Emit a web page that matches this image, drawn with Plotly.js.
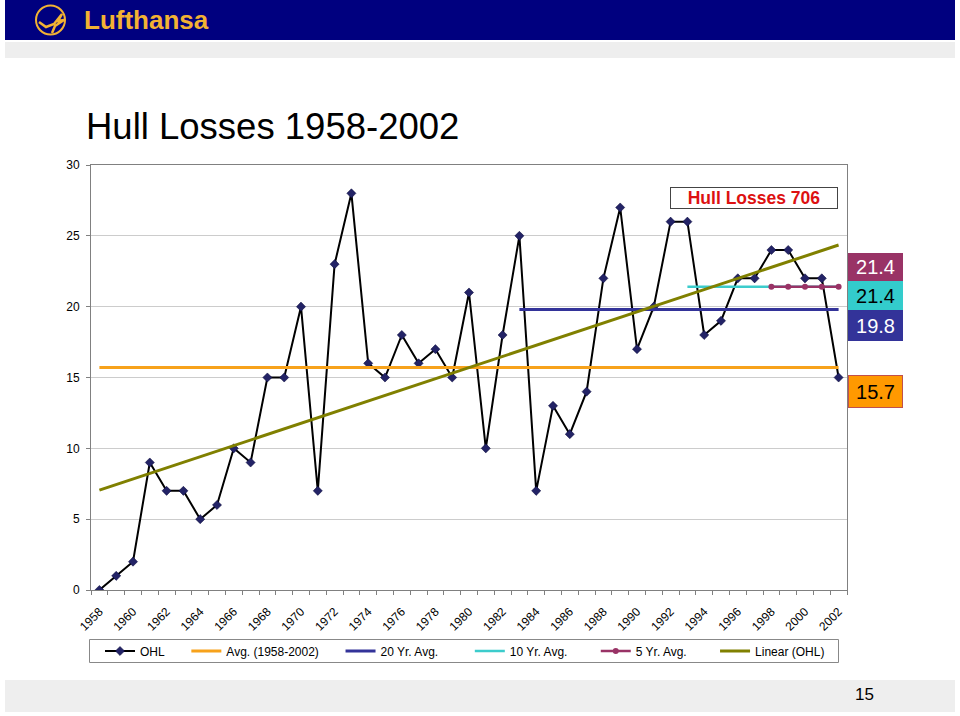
<!DOCTYPE html>
<html>
<head>
<meta charset="utf-8">
<script src="https://cdn.plot.ly/plotly-3.0.1.min.js"></script>
<style>
html,body{margin:0;padding:0;background:#fff;}
#chart{width:960px;height:716px;}
</style>
</head>
<body>
<div id="chart"></div>
<script>
// ---- data ----
const years = [1958,1959,1960,1961,1962,1963,1964,1965,1966,1967,1968,1969,1970,1971,1972,1973,1974,1975,1976,1977,1978,1979,1980,1981,1982,1983,1984,1985,1986,1987,1988,1989,1990,1991,1992,1993,1994,1995,1996,1997,1998,1999,2000,2001,2002];
const ohl = [0,1,2,9,7,7,5,6,10,9,15,15,20,7,23,28,16,15,18,16,17,15,21,10,18,25,7,13,11,14,22,27,17,20,26,26,18,19,22,22,24,24,22,22,15];
const avgAllYears = [1958, 2002];
const avgAllValues = [15.7, 15.7];
const avg20Years = [1983, 2002];
const avg20Values = [19.8, 19.8];
const avg10Years = [1993, 2002];
const avg10Values = [21.4, 21.4];
const avg5Years = [1998, 1999, 2000, 2001, 2002];
const avg5Values = [21.4, 21.4, 21.4, 21.4, 21.4];
const linearYears = [1958, 2002];
const linearValues = [7.05, 24.35];
const tickYears = [1958,1960,1962,1964,1966,1968,1970,1972,1974,1976,1978,1980,1982,1984,1986,1988,1990,1992,1994,1996,1998,2000,2002];
const seriesNames = ['OHL', 'Avg. (1958-2002)', '20 Yr. Avg.', '10 Yr. Avg.', '5 Yr. Avg.', 'Linear (OHL)'];
const boxLabels = ['21.4', '21.4', '19.8', '15.7'];
const totalLabel = 'Hull Losses 706';

// ---- geometry helpers (pixel -> paper) ----
const L = 91, R = 847, T = 165, B = 590;
const W = 960, H = 716;
const xp = px => (px - L) / (R - L);
const yp = py => (B - py) / (B - T);
const FONT = 'Liberation Sans, Arial, sans-serif';
const NB = '\u00A0';
const pad = n => NB.repeat(n);
const legendPads = [5, 5, 8, 7, 7, 0];
const legName = i => seriesNames[i] + pad(legendPads[i]);

const traces = [
  {x: years, y: ohl, name: legName(0), type: 'scatter', mode: 'lines+markers',
   line: {color: '#000000', width: 2},
   marker: {symbol: 'diamond', size: 7, color: '#232366', line: {color: '#000033', width: 0.5}}},
  {x: avgAllYears, y: avgAllValues, name: legName(1), type: 'scatter', mode: 'lines',
   line: {color: '#F7A21B', width: 3}},
  {x: avg20Years, y: avg20Values, name: legName(2), type: 'scatter', mode: 'lines',
   line: {color: '#333399', width: 3}},
  {x: avg10Years, y: avg10Values, name: legName(3), type: 'scatter', mode: 'lines',
   line: {color: '#3CCCCC', width: 2.5}},
  {x: avg5Years, y: avg5Values, name: legName(4), type: 'scatter', mode: 'lines+markers',
   line: {color: '#993366', width: 2.5},
   marker: {symbol: 'circle', size: 6, color: '#993366'}},
  {x: linearYears, y: linearValues, name: legName(5), type: 'scatter', mode: 'lines',
   line: {color: '#808000', width: 3}}
];

function pathFromPx(pts) {
  return pts.map((p, i) => (i === 0 ? 'M' : 'L') + xp(p[0]).toFixed(5) + ',' + yp(p[1]).toFixed(5)).join(' ');
}
const crane = pathFromPx([[39,22],[46,27],[54,24],[62,14],[58,21],[64,20],[55,26],[52,33]]);

const boxColors = [
  {bg: '#993366', fg: '#FFFFFF', cy: 267, h: 28},
  {bg: '#33CCCC', fg: '#000000', cy: 295.5, h: 29},
  {bg: '#333399', fg: '#FFFFFF', cy: 325.5, h: 31},
  {bg: '#FF9900', fg: '#000000', cy: 391.5, h: 33}
];

const annotations = [
  {xref: 'paper', yref: 'paper', x: xp(82), y: yp(20), xanchor: 'left', yanchor: 'middle',
   text: '<b>Lufthansa</b>', showarrow: false, font: {family: FONT, size: 26, color: '#F2B233'}},
  {xref: 'paper', yref: 'paper', x: xp(753.5), y: yp(198), xanchor: 'center', yanchor: 'middle',
   text: '<b>' + totalLabel + '</b>', showarrow: false,
   font: {family: FONT, size: 17.5, color: '#DD1111'},
   bgcolor: '#FFFFFF', bordercolor: '#444444', borderwidth: 1, width: 166, height: 20, borderpad: 0},
  {xref: 'paper', yref: 'paper', x: xp(865), y: yp(694), xanchor: 'center', yanchor: 'middle',
   text: '15', showarrow: false, font: {family: FONT, size: 17, color: '#000000'}}
];
boxLabels.forEach((t, i) => {
  const c = boxColors[i];
  annotations.push({xref: 'paper', yref: 'paper', x: xp(875.5), y: yp(c.cy), xanchor: 'center', yanchor: 'middle',
    text: t, showarrow: false, font: {family: FONT, size: 20, color: c.fg},
    bgcolor: c.bg, bordercolor: i === 3 ? '#C0504D' : c.bg, borderwidth: 1, width: 53, height: c.h - 2, borderpad: 0});
});

const shapes = [
  {type: 'rect', xref: 'paper', yref: 'paper', x0: xp(5), x1: xp(955), y0: yp(0), y1: yp(40),
   fillcolor: '#00007F', line: {width: 0}, layer: 'below'},
  {type: 'rect', xref: 'paper', yref: 'paper', x0: xp(5), x1: xp(955), y0: yp(42), y1: yp(58),
   fillcolor: '#EEEEEE', line: {width: 0}, layer: 'below'},
  {type: 'rect', xref: 'paper', yref: 'paper', x0: xp(5), x1: xp(955), y0: yp(680), y1: yp(712),
   fillcolor: '#EEEEEE', line: {width: 0}, layer: 'below'},
  {type: 'rect', xref: 'paper', yref: 'paper', x0: xp(89.5), x1: xp(838.5), y0: yp(639.5), y1: yp(662.5),
   fillcolor: 'rgba(0,0,0,0)', line: {color: '#888888', width: 1}},
  {type: 'circle', xref: 'paper', yref: 'paper', x0: xp(36), x1: xp(65), y0: yp(5.5), y1: yp(34.5),
   line: {color: '#F2B233', width: 2}},
  {type: 'path', xref: 'paper', yref: 'paper', path: crane, line: {color: '#F2B233', width: 2.5}}
];

const layout = {
  width: W, height: H,
  margin: {l: L, r: W - R, t: T, b: H - B, pad: 0},
  paper_bgcolor: '#FFFFFF', plot_bgcolor: '#FFFFFF',
  font: {family: FONT, size: 12, color: '#000000'},
  title: {text: 'Hull Losses 1958-2002', x: 86 / W, xanchor: 'left', xref: 'container',
          y: 1 - 126 / H, yanchor: 'middle', yref: 'container',
          font: {family: FONT, size: 36.5, color: '#000000'}},
  showlegend: true,
  legend: {orientation: 'h', x: xp(100), xanchor: 'left', y: yp(651), yanchor: 'middle',
           borderwidth: 0, bgcolor: 'rgba(0,0,0,0)',
           font: {family: FONT, size: 12, color: '#000000'}, itemwidth: 30, tracegroupgap: 0},
  xaxis: {range: [1957.5, 2002.5], tickmode: 'array', tickvals: tickYears, ticktext: tickYears.map(String),
          tickangle: -45, ticks: '', showgrid: false, zeroline: false,
          showline: true, linecolor: '#808080', linewidth: 1, mirror: true,
          ticklabelstandoff: 9,
          tickfont: {family: FONT, size: 12, color: '#000000'},
          minor: {tick0: 1957.5, dtick: 1, ticks: 'outside', ticklen: 4, tickcolor: '#808080', tickwidth: 1, showgrid: false}},
  yaxis: {range: [0, 30], tickvals: [0,5,10,15,20,25,30], ticks: 'outside', ticklen: 4, tickcolor: '#808080',
          showgrid: true, gridcolor: '#CCCCCC', gridwidth: 1,
          zeroline: false, showline: true, linecolor: '#808080', linewidth: 1, mirror: true,
          tickfont: {family: FONT, size: 12, color: '#000000'}, ticklabelstandoff: 4},
  annotations: annotations,
  shapes: shapes
};

Plotly.newPlot('chart', traces, layout, {staticPlot: true, displayModeBar: false});
</script>
</body>
</html>
